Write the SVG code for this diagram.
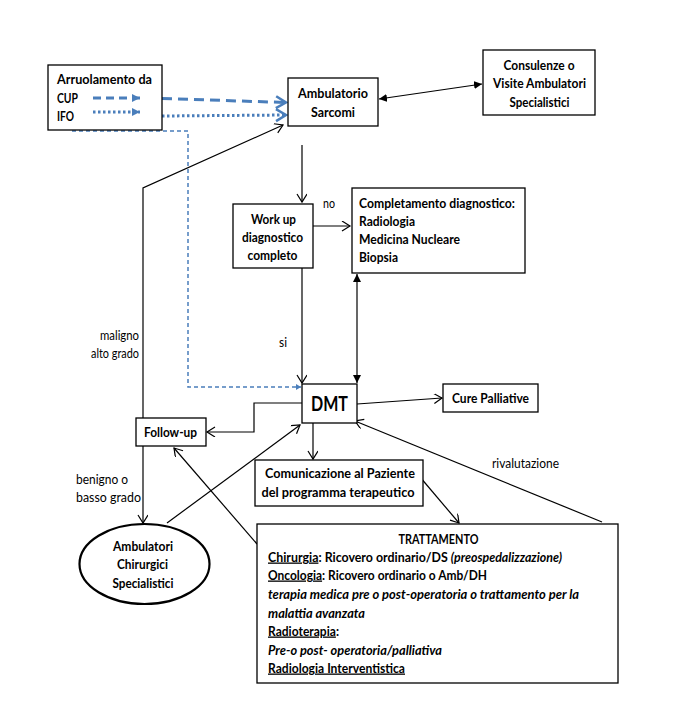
<svg xmlns="http://www.w3.org/2000/svg" width="691" height="708" viewBox="0 0 691 708">
<style>
.box{fill:#fff;stroke:#000;stroke-width:1.3}
.t{font-family:Lato,"Liberation Sans",sans-serif;font-size:13px;font-weight:bold;fill:#000}
.r{font-weight:normal}
.i{font-style:italic}
.u{text-decoration:underline}
.c{text-anchor:middle}
.e{text-anchor:end}
.ln{fill:none;stroke:#000;stroke-width:1.2}
.bl{fill:none;stroke:#4a7ebb;stroke-width:3}
</style>
<defs>
<marker id="open" markerUnits="userSpaceOnUse" markerWidth="12" markerHeight="12" refX="9" refY="5" orient="auto">
<path d="M1,0 L9,5 L1,10" fill="none" stroke="#000" stroke-width="1.2"/>
</marker>
<marker id="fill" markerUnits="userSpaceOnUse" markerWidth="10" markerHeight="10" refX="8" refY="4" orient="auto-start-reverse">
<path d="M0,0 L8,4 L0,8 Z" fill="#000"/>
</marker>
<marker id="bfill" markerUnits="userSpaceOnUse" markerWidth="10" markerHeight="10" refX="8" refY="4" orient="auto">
<path d="M0,0 L8,4 L0,8 Z" fill="#4a7ebb"/>
</marker>
<marker id="bopen" markerUnits="userSpaceOnUse" markerWidth="16" markerHeight="16" refX="11" refY="7" orient="auto">
<path d="M1,1 L11,7 L1,13" fill="none" stroke="#4a7ebb" stroke-width="2.5"/>
</marker>
<marker id="bsmall" markerUnits="userSpaceOnUse" markerWidth="6" markerHeight="6" refX="5" refY="3" orient="auto">
<path d="M0,0 L5,3 L0,6 Z" fill="#4a7ebb"/>
</marker>
</defs>

<g id="connectors">
<path class="bl" d="M162,98.5 L286,102.5" stroke-dasharray="10,6" marker-end="url(#bopen)"/>
<path class="bl" d="M162,116 L286,115" stroke-dasharray="2.5,2.5" marker-end="url(#bopen)"/>
<path d="M72,131 H188 V387 H301" fill="none" stroke="#4a7ebb" stroke-width="1.5" stroke-dasharray="4,3" marker-end="url(#bsmall)"/>
<path class="ln" d="M379,99 L482,84" marker-start="url(#fill)" marker-end="url(#fill)"/>
<path class="ln" d="M143,418 V188 L283,125" marker-end="url(#open)"/>
<path class="ln" d="M302,145 V202" marker-end="url(#open)"/>
<path class="ln" d="M313,226 H350" marker-end="url(#open)"/>
<path class="ln" d="M357,274 V383" marker-start="url(#fill)" marker-end="url(#fill)"/>
<path class="ln" d="M302,268 V383" marker-end="url(#open)"/>
<path class="ln" d="M357,404 L442,398" marker-end="url(#open)"/>
<path class="ln" d="M302,403 H254 V432 H207" marker-end="url(#open)"/>
<path class="ln" d="M143,446 V523" marker-end="url(#open)"/>
<path class="ln" d="M167,523 L300,425" marker-end="url(#open)"/>
<path class="ln" d="M257,544 L174,448" marker-end="url(#open)"/>
<path class="ln" d="M313,423 V459" marker-end="url(#open)"/>
<path class="ln" d="M420,477 L459,523" marker-end="url(#open)"/>
<path class="ln" d="M602,522 L355,421" marker-end="url(#open)"/>
<text class="t r" x="323" y="207.5" textLength="12" lengthAdjust="spacingAndGlyphs">no</text>
<text class="t r" x="279" y="346.5" textLength="8" lengthAdjust="spacingAndGlyphs">si</text>
<text class="t r e" x="139" y="339.5" textLength="39" lengthAdjust="spacingAndGlyphs">maligno</text>
<text class="t r e" x="139" y="357.5" textLength="48" lengthAdjust="spacingAndGlyphs">alto grado</text>
<text class="t r" x="76" y="483.5" textLength="52" lengthAdjust="spacingAndGlyphs">benigno o</text>
<text class="t r" x="76" y="501.5" textLength="65" lengthAdjust="spacingAndGlyphs">basso  grado</text>
<text class="t r" x="492" y="467.5" textLength="67" lengthAdjust="spacingAndGlyphs">rivalutazione</text>
</g>

<g id="arruolamento">
<rect class="box" x="48" y="65" width="114" height="65"/>
<text class="t" x="57" y="83.5" textLength="95" lengthAdjust="spacingAndGlyphs">Arruolamento  da</text>
<text class="t" x="57" y="102.5" textLength="21" lengthAdjust="spacingAndGlyphs">CUP</text>
<text class="t" x="57" y="120.5" textLength="17" lengthAdjust="spacingAndGlyphs">IFO</text>
<path class="bl" d="M93,98 H140" stroke-dasharray="8,5" marker-end="url(#bfill)"/>
<path class="bl" d="M93,112 H140" stroke-dasharray="2.5,2.5" marker-end="url(#bfill)"/>
</g>

<g id="ambulatorio">
<rect class="box" x="288" y="78" width="90" height="48"/>
<text class="t c" x="333" y="97.5" textLength="70" lengthAdjust="spacingAndGlyphs">Ambulatorio</text>
<text class="t c" x="333" y="116.5" textLength="44" lengthAdjust="spacingAndGlyphs">Sarcomi</text>
</g>

<g id="consulenze">
<rect class="box" x="483" y="50" width="112" height="65"/>
<text class="t c" x="539" y="69.5" textLength="71" lengthAdjust="spacingAndGlyphs">Consulenze o</text>
<text class="t c" x="539.5" y="87.5" textLength="93" lengthAdjust="spacingAndGlyphs">Visite Ambulatori</text>
<text class="t c" x="539.5" y="106.5" textLength="60" lengthAdjust="spacingAndGlyphs">Specialistici</text>
</g>

<g id="workup">
<rect class="box" x="233" y="204" width="80" height="64"/>
<text class="t c" x="273.5" y="223.5" textLength="45" lengthAdjust="spacingAndGlyphs">Work up</text>
<text class="t c" x="272.5" y="241.5" textLength="61" lengthAdjust="spacingAndGlyphs">diagnostico</text>
<text class="t c" x="272.5" y="259.5" textLength="50" lengthAdjust="spacingAndGlyphs">completo</text>
</g>

<g id="completamento">
<rect class="box" x="352" y="188" width="173" height="85"/>
<text class="t" x="359" y="207.5" textLength="156" lengthAdjust="spacingAndGlyphs">Completamento diagnostico:</text>
<text class="t" x="359" y="225.5" textLength="56" lengthAdjust="spacingAndGlyphs">Radiologia</text>
<text class="t" x="359" y="243.5" textLength="101" lengthAdjust="spacingAndGlyphs">Medicina Nucleare</text>
<text class="t" x="359" y="261.5" textLength="39" lengthAdjust="spacingAndGlyphs">Biopsia</text>
</g>

<g id="dmt">
<rect class="box" x="302" y="384" width="55" height="39"/>
<text class="t" x="311" y="411" style="font-size:20px" textLength="37" lengthAdjust="spacingAndGlyphs">DMT</text>
</g>

<g id="cure">
<rect class="box" x="443" y="384" width="95" height="28"/>
<text class="t c" x="490.5" y="402.5" textLength="77" lengthAdjust="spacingAndGlyphs">Cure Palliative</text>
</g>

<g id="followup">
<rect class="box" x="136" y="418" width="70" height="28"/>
<text class="t c" x="170.5" y="436.5" textLength="53" lengthAdjust="spacingAndGlyphs">Follow-up</text>
</g>

<g id="ambulatori-chirurgici">
<ellipse cx="144.5" cy="564" rx="65" ry="40" fill="#fff" stroke="#000" stroke-width="2.2"/>
<text class="t c" x="143" y="550.5" textLength="60" lengthAdjust="spacingAndGlyphs">Ambulatori</text>
<text class="t c" x="142.5" y="568.5" textLength="51" lengthAdjust="spacingAndGlyphs">Chirurgici</text>
<text class="t c" x="143" y="587.5" textLength="61" lengthAdjust="spacingAndGlyphs">Specialistici</text>
</g>

<g id="comunicazione">
<rect class="box" x="255" y="460" width="168" height="46"/>
<text class="t c" x="340" y="477.5" textLength="150" lengthAdjust="spacingAndGlyphs">Comunicazione  al Paziente</text>
<text class="t c" x="338" y="496.5" textLength="153" lengthAdjust="spacingAndGlyphs">del programma terapeutico</text>
</g>

<g id="trattamento">
<rect class="box" x="257" y="524" width="361" height="159"/>
<text class="t c" x="438.5" y="543.5" textLength="80" lengthAdjust="spacingAndGlyphs">TRATTAMENTO</text>
<text class="t" x="268" y="561.5" textLength="294" lengthAdjust="spacingAndGlyphs"><tspan class="u">Chirurgia</tspan>: Ricovero ordinario/DS <tspan class="i">(preospedalizzazione)</tspan></text>
<text class="t" x="268" y="579.5" textLength="219" lengthAdjust="spacingAndGlyphs"><tspan class="u">Oncologia</tspan>: Ricovero ordinario  o Amb/DH</text>
<text class="t i" x="268" y="598.5" textLength="311" lengthAdjust="spacingAndGlyphs">terapia medica pre o post-operatoria o trattamento per la</text>
<text class="t i" x="268" y="617.5" textLength="97" lengthAdjust="spacingAndGlyphs">malattia avanzata</text>
<text class="t" x="268" y="635.5" textLength="71" lengthAdjust="spacingAndGlyphs"><tspan class="u">Radioterapia</tspan>:</text>
<text class="t i" x="268" y="654.5" textLength="174" lengthAdjust="spacingAndGlyphs">Pre-o post- operatoria/palliativa</text>
<text class="t u" x="268" y="672.5" textLength="137" lengthAdjust="spacingAndGlyphs">Radiologia  Interventistica</text>
</g>
</svg>
